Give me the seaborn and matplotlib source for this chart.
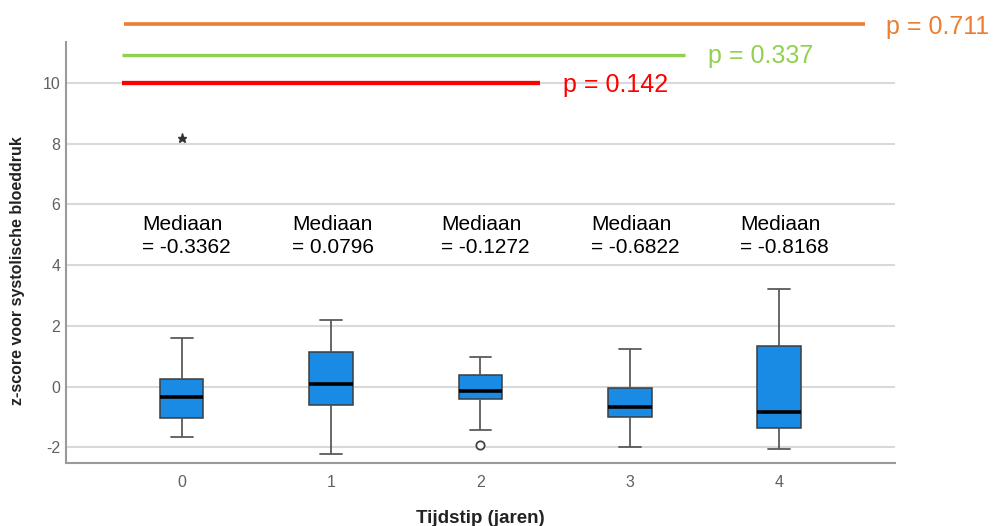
import numpy as np
import pandas as pd
import matplotlib
matplotlib.use("Agg")
import matplotlib.pyplot as plt
import seaborn as sns

# Five-number summaries per time point (years)
tijdstip = ["0", "1", "2", "3", "4"]
whisker_laag = [-1.66, -2.20, -1.43, -1.98, -2.06]
kwartiel_1 = [-1.04, -0.60, -0.40, -1.00, -1.35]
mediaan = [-0.3362, 0.0796, -0.1272, -0.6822, -0.8168]
kwartiel_3 = [0.24, 1.14, 0.385, -0.03, 1.34]
whisker_hoog = [1.61, 2.20, 0.98, 1.25, 3.22]

# Flagged observations: extreme value (*) and outlier (o)
extreem_tijd = [0]
extreem_z = [8.19]
uitschieter_tijd = [2]
uitschieter_z = [-1.93]

# Pairwise comparison p-values
p_waarden = ["0.142", "0.337", "0.711"]
p_kleuren = ["#FF0000", "#92D050", "#ED7D31"]

y_ticks = [-2, 0, 2, 4, 6, 8, 10]

# Long table: each summary value as an observation, so the box statistics
# computed by seaborn reproduce the quartiles, median and whisker ends.
rows = []
for i, t in enumerate(tijdstip):
    for v in (whisker_laag[i], kwartiel_1[i], mediaan[i], kwartiel_3[i], whisker_hoog[i]):
        rows.append({"tijdstip": t, "z": v})
df = pd.DataFrame(rows)

sns.set_style("white")
plt.rcParams["font.family"] = ["Liberation Sans", "DejaVu Sans"]

fig = plt.figure(figsize=(9.98, 5.26), dpi=100)
ax = fig.add_axes([0.0661, 0.1198, 0.8307, 0.8004])

box_blue = "#1a8be4"
sns.boxplot(
    data=df, x="tijdstip", y="z", order=tijdstip, ax=ax,
    color=box_blue, saturation=1, width=0.294, whis=1.5,
    fliersize=0, linewidth=1.1, linecolor="#3c3c3c",
    medianprops=dict(color="black", linewidth=2.6),
    whiskerprops=dict(color="#5a5a5a", linewidth=1.3),
    capprops=dict(color="#5a5a5a", linewidth=1.3),
    zorder=3,
)

# Extreme value and outlier markers
ax.plot(extreem_tijd, extreem_z, linestyle="none", marker="*", markersize=6.5,
        color="#333333", zorder=4)
ax.plot(uitschieter_tijd, uitschieter_z, linestyle="none", marker="o", markersize=6,
        markerfacecolor="white", markeredgecolor="#444444", markeredgewidth=1.3, zorder=4)

ax.set_xlim(-0.773, 4.773)
ax.set_ylim(-2.51, 11.34)
ax.set_yticks(y_ticks)
ax.set_yticklabels([str(t) for t in y_ticks])

ax.yaxis.grid(True, color="#d9d9d9", linewidth=1.5)
ax.xaxis.grid(False)
ax.set_axisbelow(True)

for side in ("top", "right"):
    ax.spines[side].set_visible(False)
for side in ("left", "bottom"):
    ax.spines[side].set_color("#9a9a9a")
    ax.spines[side].set_linewidth(1.5)

ax.tick_params(axis="both", length=0, labelsize=11.5, colors="#606060")
ax.tick_params(axis="y", pad=4)
ax.tick_params(axis="x", pad=9)

ax.set_xlabel("Tijdstip (jaren)", fontsize=13.5, fontweight="bold", color="#222222")
ax.set_ylabel("z-score voor systolische bloeddruk", fontsize=11.5, fontweight="bold",
              color="#222222")
ax.xaxis.set_label_coords(0.5, -0.112)
ax.yaxis.set_label_coords(-0.0495, 0.456)

# Median annotations above each box
for i, m in enumerate(mediaan):
    ax.text(i - 0.262, 5.15, "Mediaan", fontsize=15, color="black", va="baseline", ha="left")
    ax.text(i - 0.262, 4.39, f"= {m:.4f}", fontsize=15, color="black", va="baseline", ha="left")

# Comparison brackets with p-values
lijn_y = [10.0, 10.92, 11.93]
lijn_x0 = [-0.40, -0.40, -0.385]
lijn_x1 = [2.398, 3.368, 4.572]
lijn_dikte = [3.1, 2.4, 2.6]
tekst_x = [2.552, 3.522, 4.712]
tekst_y = [9.69, 10.65, 11.60]
for k in range(3):
    ax.plot([lijn_x0[k], lijn_x1[k]], [lijn_y[k], lijn_y[k]], color=p_kleuren[k],
            linewidth=lijn_dikte[k], solid_capstyle="butt", clip_on=False, zorder=5)
    ax.text(tekst_x[k], tekst_y[k], f"p = {p_waarden[k]}", color=p_kleuren[k],
            fontsize=18, va="baseline", ha="left", clip_on=False)

fig.savefig("out.png", dpi=100)
